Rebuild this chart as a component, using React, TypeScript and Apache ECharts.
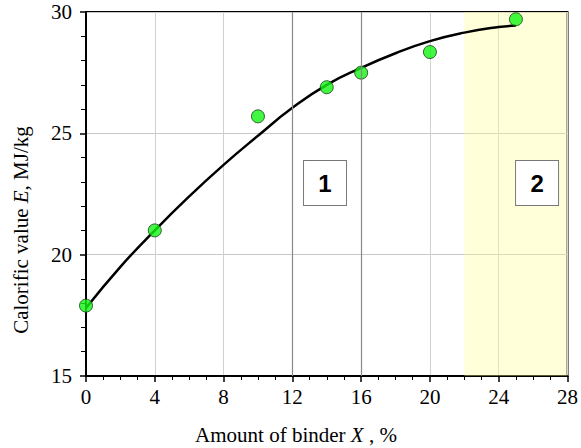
import React, { useEffect, useRef } from "react";
import * as echarts from "echarts";

const pointX = [0, 4, 10, 14, 16, 20, 25];
const pointE = [17.9, 21.0, 25.7, 26.9, 27.5, 28.35, 29.7];
const curveX = [0, 2, 4, 6, 8, 10, 12, 14, 16, 18, 20, 22, 24, 25];
const curveE = [17.8, 19.5, 21.0, 22.4, 23.7, 24.9, 26.05, 27.0, 27.7, 28.3, 28.8, 29.15, 29.38, 29.44];
const zoneRange = [22, 28];
const darkGridX = [12, 16];
const boxLabels = [
  { name: "1", x: 13.9, e: 22.95 },
  { name: "2", x: 26.23, e: 22.95 },
];
const xTitle = "Amount of binder {i|X} , %";
const yTitle = "Calorific value {i|E}, MJ/kg";

export default function App() {
  const ref = useRef<HTMLDivElement>(null);
  useEffect(() => {
    const chart = echarts.init(ref.current!, undefined, { renderer: "svg" });
    const serif = "Liberation Serif, Times New Roman, serif";
    const rich = { i: { fontStyle: "italic", fontFamily: serif, fontSize: 21, fill: "#000" } };
    chart.setOption({
      animation: false,
      backgroundColor: "#fff",
      grid: {
        left: 86,
        right: 13,
        top: 12,
        bottom: 72,
        show: true,
        borderColor: "#000",
        borderWidth: 2,
      },
      graphic: [
        {
          type: "text",
          x: 296,
          y: 424,
          style: {
            text: xTitle,
            rich,
            fontFamily: serif,
            fontSize: 21,
            fill: "#000",
            align: "center",
            verticalAlign: "top",
          },
        },
        {
          type: "text",
          x: 10,
          y: 230,
          rotation: Math.PI / 2,
          style: {
            text: yTitle,
            rich,
            fontFamily: serif,
            fontSize: 21,
            fill: "#000",
            align: "center",
            verticalAlign: "top",
          },
        },
      ],
      xAxis: {
        type: "value",
        min: 0,
        max: 28,
        interval: 4,
        axisLine: { lineStyle: { color: "#000", width: 2 } },
        axisTick: { show: true, length: 6, lineStyle: { color: "#000", width: 1.5 } },
        minorTick: { show: true, splitNumber: 4, length: 4, lineStyle: { color: "#000", width: 1 } },
        axisLabel: { fontFamily: serif, fontSize: 21, color: "#000", margin: 10 },
        splitLine: { show: true, lineStyle: { color: "#d0d0d0", width: 1 } },
      },
      yAxis: {
        type: "value",
        min: 15,
        max: 30,
        interval: 5,
        axisLine: { lineStyle: { color: "#000", width: 2 } },
        axisTick: { show: true, length: 6, lineStyle: { color: "#000", width: 1.5 } },
        minorTick: { show: true, splitNumber: 5, length: 5, lineStyle: { color: "#000", width: 1 } },
        axisLabel: { fontFamily: serif, fontSize: 21, color: "#000", margin: 14 },
        splitLine: { show: true, lineStyle: { color: "#c8c8c8", width: 1 } },
      },
      series: [
        {
          type: "line",
          data: curveX.map((x, i) => [x, curveE[i]]),
          smooth: true,
          showSymbol: false,
          lineStyle: { color: "#000", width: 2.5 },
          z: 3,
          markArea: {
            silent: true,
            itemStyle: { color: "rgba(255,255,150,0.35)" },
            data: [[{ xAxis: zoneRange[0] }, { xAxis: zoneRange[1] }]],
          },
          markLine: {
            silent: true,
            symbol: "none",
            label: { show: false },
            lineStyle: { color: "#8a8a8a", width: 1.2, type: "solid" },
            data: darkGridX.map((x) => ({ xAxis: x })),
          },
          markPoint: {
            silent: true,
            symbol: "rect",
            symbolSize: [43, 45],
            itemStyle: { color: "#fff", borderColor: "#777", borderWidth: 1 },
            label: {
              show: true,
              position: "inside",
              fontFamily: "Liberation Sans, Arial, sans-serif",
              fontWeight: "bold",
              fontSize: 24,
              color: "#000",
              formatter: (p: any) => p.name,
            },
            data: boxLabels.map((b) => ({ name: b.name, coord: [b.x, b.e] })),
          },
        },
        {
          type: "scatter",
          data: pointX.map((x, i) => [x, pointE[i]]),
          symbol: "circle",
          symbolSize: 13,
          itemStyle: { color: "#11f511", borderColor: "#1a3a1a", borderWidth: 1 },
          z: 4,
        },
      ],
    });
    return () => chart.dispose();
  }, []);
  return (
    <div
      ref={ref}
      style={{ position: "fixed", left: 0, top: 0, width: 581, height: 448, overflow: "hidden" }}
    />
  );
}
